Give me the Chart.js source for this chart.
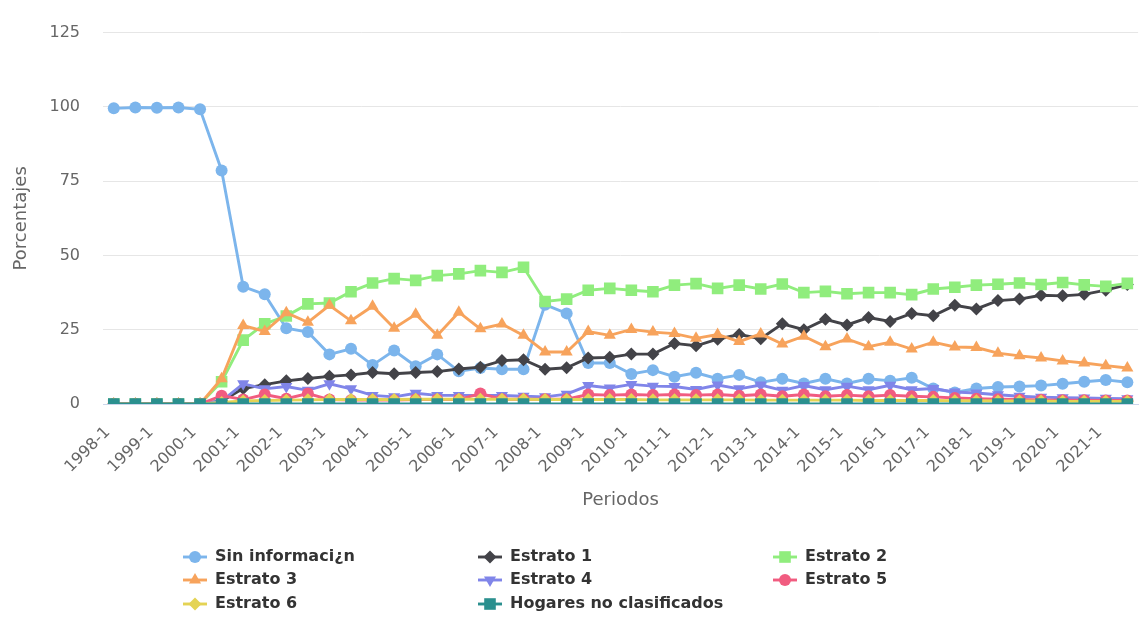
<!DOCTYPE html>
<html>
<head>
<meta charset="utf-8">
<script src="https://cdn.jsdelivr.net/npm/chart.js@4.4.1/dist/chart.umd.min.js"></script>
<style>
  html, body { margin: 0; padding: 0; background: #fff; overflow: hidden; }
  #wrap { width: 1160px; height: 617px; position: relative; }
</style>
</head>
<body>
<div id="wrap"><canvas id="myChart"></canvas></div>
<script>
// periodos semestrales
const periodos = ['1998-1', '1998-2', '1999-1', '1999-2', '2000-1', '2000-2', '2001-1', '2001-2', '2002-1', '2002-2',
  '2003-1', '2003-2', '2004-1', '2004-2', '2005-1', '2005-2', '2006-1', '2006-2', '2007-1', '2007-2',
  '2008-1', '2008-2', '2009-1', '2009-2', '2010-1', '2010-2', '2011-1', '2011-2', '2012-1', '2012-2',
  '2013-1', '2013-2', '2014-1', '2014-2', '2015-1', '2015-2', '2016-1', '2016-2', '2017-1', '2017-2',
  '2018-1', '2018-2', '2019-1', '2019-2', '2020-1', '2020-2', '2021-1', '2021-2'];

const sinInformacion = [99.5, 99.8, 99.7, 99.8, 99.2, 78.6, 39.5, 36.9, 25.5, 24.2,
  16.7, 18.6, 13.1, 18.0, 12.7, 16.7, 11.0, 12.1, 11.7, 11.7,
  33.4, 30.5, 13.8, 13.8, 10.1, 11.4, 9.2, 10.5, 8.5, 9.8,
  7.3, 8.5, 6.9, 8.5, 6.9, 8.5, 7.8, 8.8, 5.2, 3.9,
  5.2, 5.7, 5.9, 6.2, 6.8, 7.5, 8.1, 7.3];
const estrato1 = [0, 0, 0, 0, 0, 1.0, 5.2, 6.5, 7.8, 8.6,
  9.3, 9.8, 10.6, 10.2, 10.6, 10.9, 11.8, 12.4, 14.6, 14.9,
  11.7, 12.2, 15.5, 15.7, 16.8, 16.8, 20.4, 19.6, 21.8, 23.4,
  22.0, 27.0, 25.0, 28.5, 26.6, 29.1, 27.8, 30.5, 29.7, 33.2,
  32.0, 34.8, 35.3, 36.6, 36.4, 36.9, 38.3, 40.2];
const estrato2 = [0, 0, 0, 0, 0, 7.5, 21.5, 27.0, 29.6, 33.7,
  34.0, 37.8, 40.7, 42.2, 41.6, 43.2, 43.8, 44.9, 44.3, 46.0,
  34.5, 35.3, 38.3, 38.9, 38.3, 37.8, 40.0, 40.5, 38.9, 40.0,
  38.7, 40.4, 37.5, 37.9, 37.1, 37.5, 37.5, 36.8, 38.7, 39.3,
  40.0, 40.3, 40.7, 40.2, 40.9, 40.1, 39.6, 40.6];
const estrato3 = [0, 0, 0, 0, 0, 8.5, 26.4, 24.4, 30.7, 27.5,
  33.2, 28.0, 32.9, 25.5, 30.2, 23.1, 30.9, 25.3, 26.9, 23.1,
  17.5, 17.5, 24.4, 23.1, 25.1, 24.2, 23.7, 22.1, 23.4, 21.0,
  23.6, 20.2, 22.8, 19.3, 21.9, 19.3, 20.8, 18.5, 20.8, 19.2,
  19.0, 17.1, 16.2, 15.5, 14.5, 13.8, 12.9, 12.1];
const estrato4 = [0, 0, 0, 0, 0, 1.0, 6.8, 5.1, 5.9, 4.6,
  6.8, 5.1, 2.9, 2.4, 3.6, 2.9, 2.9, 2.9, 2.9, 2.6,
  2.4, 3.3, 6.2, 5.4, 6.6, 6.0, 5.9, 4.9, 6.4, 5.1,
  6.4, 4.6, 6.2, 4.8, 6.0, 4.8, 6.3, 4.8, 5.2, 4.0,
  3.7, 3.1, 2.6, 2.3, 2.1, 2.0, 1.9, 1.8];
const estrato5 = [0, 0, 0, 0, 0, 2.8, 1.5, 3.2, 1.8, 3.5,
  1.5, 1.3, 1.3, 1.3, 1.5, 1.5, 1.5, 3.5, 1.6, 1.6,
  1.6, 1.6, 3.2, 3.0, 3.2, 3.0, 3.2, 3.0, 3.2, 2.8,
  3.2, 2.6, 3.2, 2.6, 3.0, 2.6, 3.0, 2.6, 2.4, 2.0,
  1.8, 1.6, 1.5, 1.4, 1.3, 1.3, 1.2, 1.2];
const estrato6 = [0, 0, 0, 0, 0, 0.5, 1.0, 1.2, 1.3, 1.4,
  1.5, 1.5, 1.5, 1.5, 1.6, 1.6, 1.6, 1.6, 1.6, 1.6,
  1.5, 1.5, 1.5, 1.5, 1.5, 1.4, 1.4, 1.4, 1.4, 1.4,
  1.3, 1.3, 1.3, 1.3, 1.3, 1.2, 1.2, 1.2, 1.2, 1.1,
  1.1, 1.0, 1.0, 1.0, 0.9, 0.9, 0.9, 0.9];
const hogaresNoClasificados = [0, 0, 0, 0, 0, 0, 0, 0, 0, 0,
  0, 0, 0, 0, 0, 0, 0, 0, 0, 0,
  0, 0, 0, 0, 0, 0, 0, 0, 0, 0,
  0, 0, 0, 0, 0, 0, 0, 0, 0, 0,
  0, 0, 0, 0, 0, 0, 0, 0];

const yTicks = [0, 25, 50, 75, 100, 125];

const FONT = '"DejaVu Sans", "Liberation Sans", sans-serif';

// nombre, datos, color, marcador
const SERIES = [
  ['Sin informaci¿n', sinInformacion, '#7cb5ec', 'circle', 6, 0],
  ['Estrato 1', estrato1, '#434348', 'rectRot', 6.5, 0],
  ['Estrato 2', estrato2, '#90ed7d', 'rect', 8.2, 0],
  ['Estrato 3', estrato3, '#f7a35c', 'triangle', 7, 0],
  ['Estrato 4', estrato4, '#8085e9', 'triangle', 7, 180],
  ['Estrato 5', estrato5, '#f15c80', 'circle', 6, 0],
  ['Estrato 6', estrato6, '#e4d354', 'rectRot', 6.5, 0],
  ['Hogares no clasificados', hogaresNoClasificados, '#2b908f', 'rect', 8.2, 0]
];

const datasets = SERIES.map((s, i) => ({
  label: s[0],
  data: s[1],
  borderColor: s[2],
  backgroundColor: s[2],
  pointBackgroundColor: s[2],
  pointBorderWidth: 0,
  pointStyle: s[3],
  pointRadius: s[4],
  pointRotation: s[5],
  borderWidth: 2.9,
  tension: 0,
  order: SERIES.length - i   // la ultima serie queda arriba
}));

// leyenda en grilla de 3 columnas
const LEGEND_X = [183, 478, 773];
const LEGEND_Y = [557, 580, 604];
const gridLegend = {
  id: 'gridLegend',
  afterDraw(chart) {
    const c = chart.ctx;
    chart.data.datasets.forEach((ds, i) => {
      const x = LEGEND_X[i % 3];
      const y = LEGEND_Y[Math.floor(i / 3)];
      c.save();
      c.strokeStyle = ds.borderColor;
      c.lineWidth = ds.borderWidth;
      c.beginPath();
      c.moveTo(x, y);
      c.lineTo(x + 24, y);
      c.stroke();
      c.fillStyle = ds.pointBackgroundColor;
      Chart.helpers.drawPoint(c, {
        pointStyle: ds.pointStyle,
        radius: ds.pointRadius,
        rotation: ds.pointRotation,
        borderWidth: 0
      }, x + 12, y);
      c.fillStyle = '#333333';
      c.font = 'bold 16px ' + FONT;
      c.textBaseline = 'middle';
      c.textAlign = 'left';
      c.fillText(ds.label, x + 32, y);
      c.restore();
    });
  }
};

const config = {
  type: 'line',
  data: {
    labels: periodos,
    datasets: datasets
  },
  options: {
    responsive: true,
    maintainAspectRatio: false,
    animation: false,
    events: [],
    layout: {
      padding: { top: 21, right: 8, bottom: 103, left: 0 }
    },
    plugins: {
      legend: { display: false },
      tooltip: { enabled: false },
      title: { display: false }
    },
    scales: {
      x: {
        type: 'category',
        offset: true,
        afterFit: function(scale) { scale.height = 110; },
        grid: { display: false, drawTicks: false },
        border: { display: true, color: '#ccd6eb', width: 1 },
        ticks: {
          autoSkip: false,
          minRotation: 45,
          maxRotation: 45,
          padding: 19,
          labelOffset: -6,
          color: '#666666',
          font: { family: FONT, size: 16 },
          callback: function(value, index) {
            return index % 2 === 0 ? this.getLabelForValue(value) : '';
          }
        },
        title: {
          display: true,
          text: 'Periodos',
          color: '#666666',
          font: { family: FONT, size: 18 },
          padding: { top: 0, bottom: 3 }
        }
      },
      y: {
        min: 0,
        max: 125,
        afterFit: function(scale) { scale.width = 103; },
        afterBuildTicks: function(scale) {
          scale.ticks = yTicks.map(v => ({ value: v }));
        },
        grid: { color: '#e6e6e6', lineWidth: 1, drawTicks: false },
        border: { display: false },
        ticks: {
          padding: 23,
          color: '#666666',
          font: { family: FONT, size: 16 }
        },
        title: {
          display: true,
          text: 'Porcentajes',
          color: '#666666',
          font: { family: FONT, size: 18 },
          padding: { top: 11, bottom: 0 }
        }
      }
    }
  },
  plugins: [gridLegend]
};

const myChart = new Chart(ctx = document.getElementById('myChart').getContext('2d'), config);
</script>
</body>
</html>
